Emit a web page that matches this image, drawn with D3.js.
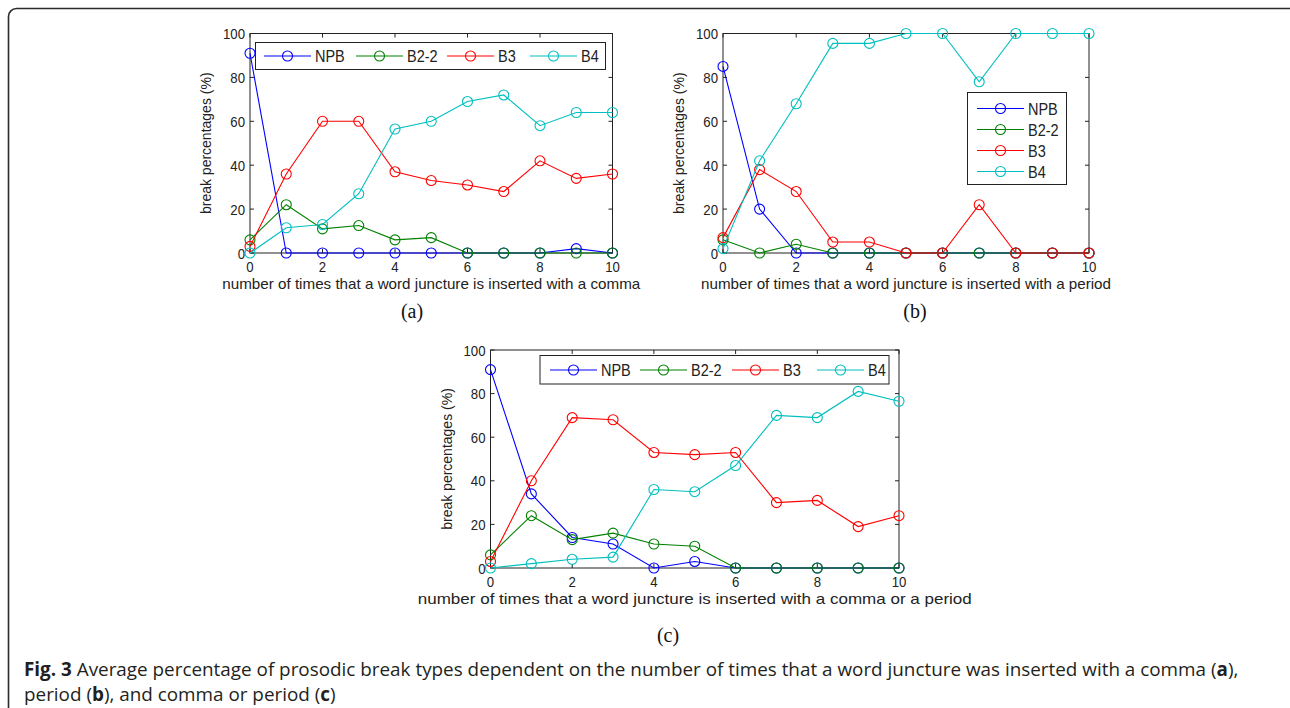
<!DOCTYPE html>
<html>
<head>
<meta charset="utf-8">
<script src="https://cdn.jsdelivr.net/npm/d3@7"></script>
<style>
  html, body { margin: 0; padding: 0; background: #fff; }
  svg { display: block; }
</style>
</head>
<body>
<svg id="fig" width="1290" height="708"></svg>
<script>
// ===== DATA =====
const xValues = [0, 1, 2, 3, 4, 5, 6, 7, 8, 9, 10];
const xTicks = [0, 2, 4, 6, 8, 10];
const yTicks = [0, 20, 40, 60, 80, 100];
const seriesNames = ['NPB', 'B2-2', 'B3', 'B4'];
const seriesColors = ['#0000ff', '#008000', '#ff0000', '#00bfbf'];

// (a) comma
const commaNPB = [91, 0, 0, 0, 0, 0, 0, 0, 0, 2, 0];
const commaB22 = [6, 22, 11, 12.5, 6, 7, 0, 0, 0, 0, 0];
const commaB3  = [3, 36, 60, 60, 37, 33, 31, 28, 42, 34, 36];
const commaB4  = [0, 11.5, 13, 27, 56.5, 60, 69, 72, 58, 64, 64];

// (b) period
const periodNPB = [85, 20, 0, 0, 0, 0, 0, 0, 0, 0, 0];
const periodB22 = [6, 0, 4, 0, 0, 0, 0, 0, 0, 0, 0];
const periodB3  = [7, 38, 28, 5, 5, 0, 0, 22, 0, 0, 0];
const periodB4  = [2, 42, 68, 95.5, 95.5, 100, 100, 78, 100, 100, 100];

// (c) comma or period
const bothNPB = [91, 34, 14, 11, 0, 3, 0, 0, 0, 0, 0];
const bothB22 = [6, 24, 13, 16, 11, 10, 0, 0, 0, 0, 0];
const bothB3  = [3, 40, 69, 68, 53, 52, 53, 30, 31, 19, 24];
const bothB4  = [0, 2, 4, 5, 36, 35, 47, 70, 69, 81, 76.5];

const xLabels = [
    'number of times that a word juncture is inserted with a comma',
    'number of times that a word juncture is inserted with a period',
    'number of times that a word juncture is inserted with a comma or a period'
];
const yLabel = 'break percentages (%)';
const panelTags = ['(a)', '(b)', '(c)'];

const svg = d3.select('#fig');
const axisFont = '"Liberation Sans", Arial, sans-serif';
const stretch = 1.15; // the source figure's text is slightly taller than wide

// text placed at (x, y) and stretched vertically
function addText(parent, x, y, str, size, anchor) {
    return parent.append('text')
        .attr('transform', `translate(${x},${y}) scale(1,${stretch})`)
        .attr('text-anchor', anchor || 'start')
        .style('font-family', axisFont).style('font-size', size + 'px')
        .style('fill', '#222')
        .text(str);
}

// outer frame (right and bottom run off the page)
svg.append('rect')
    .attr('x', 8.5).attr('y', 8.5)
    .attr('width', 1290).attr('height', 740)
    .attr('rx', 8).attr('ry', 8)
    .attr('fill', 'none')
    .attr('stroke', '#2b2b2b')
    .attr('stroke-width', 1.6);

function drawPanel(p) {
    const x = d3.scaleLinear().domain([0, 10]).range([p.left, p.right]);
    const y = d3.scaleLinear().domain([0, 100]).range([p.bottom, p.top]);
    const g = svg.append('g');
    const tick = 4;

    // box
    g.append('rect')
        .attr('x', p.left).attr('y', p.top)
        .attr('width', p.right - p.left).attr('height', p.bottom - p.top)
        .attr('fill', '#fff').attr('stroke', '#222').attr('stroke-width', 1);

    // ticks inward on all four sides
    xTicks.forEach(t => {
        g.append('line').attr('x1', x(t)).attr('x2', x(t))
            .attr('y1', p.bottom).attr('y2', p.bottom - tick).attr('stroke', '#222');
        g.append('line').attr('x1', x(t)).attr('x2', x(t))
            .attr('y1', p.top).attr('y2', p.top + tick).attr('stroke', '#222');
        addText(g, x(t), p.bottom + 19, t, 13.2, 'middle');
    });
    yTicks.forEach(t => {
        g.append('line').attr('x1', p.left).attr('x2', p.left + tick)
            .attr('y1', y(t)).attr('y2', y(t)).attr('stroke', '#222');
        g.append('line').attr('x1', p.right).attr('x2', p.right - tick)
            .attr('y1', y(t)).attr('y2', y(t)).attr('stroke', '#222');
        addText(g, p.left - 5, y(t) + 5.5, t, 13.2, 'end');
    });

    // axis labels
    addText(g, (p.left + p.right) / 2, p.bottom + 36, p.xLabel, 13, 'middle')
        .attr('textLength', p.xLabelWidth).attr('lengthAdjust', 'spacingAndGlyphs');
    g.append('text')
        .attr('transform', `translate(${p.left - 39},${(p.top + p.bottom) / 2}) rotate(-90)`)
        .attr('text-anchor', 'middle')
        .style('font-family', axisFont).style('font-size', '14px')
        .style('fill', '#222')
        .text(yLabel);

    // series: line then markers, in legend order
    const line = d3.line().x((d, i) => x(xValues[i])).y(d => y(d));
    p.series.forEach((vals, s) => {
        g.append('path')
            .datum(vals)
            .attr('d', line)
            .attr('fill', 'none')
            .attr('stroke', seriesColors[s])
            .attr('stroke-width', 1.1);
        g.selectAll(null)
            .data(vals)
            .join('circle')
            .attr('cx', (d, i) => x(xValues[i]))
            .attr('cy', d => y(d))
            .attr('r', 5)
            .attr('fill', 'none')
            .attr('stroke', seriesColors[s])
            .attr('stroke-width', 1.1);
    });

    // legend
    const L = p.legend;
    const lg = g.append('g');
    lg.append('rect')
        .attr('x', L.x).attr('y', L.y).attr('width', L.w).attr('height', L.h)
        .attr('fill', '#fff').attr('stroke', '#222').attr('stroke-width', 1);
    seriesNames.forEach((name, s) => {
        const ex = L.entries[s][0], ey = L.entries[s][1];
        lg.append('line')
            .attr('x1', ex).attr('x2', ex + 47)
            .attr('y1', ey).attr('y2', ey)
            .attr('stroke', seriesColors[s]).attr('stroke-width', 1.1);
        lg.append('circle')
            .attr('cx', ex + 23.5).attr('cy', ey).attr('r', 5)
            .attr('fill', 'none').attr('stroke', seriesColors[s]).attr('stroke-width', 1.1);
        addText(lg, ex + 51, ey + 6, name, 14.5);
    });

    // panel tag
    svg.append('text')
        .attr('x', p.tagX).attr('y', p.tagY)
        .attr('text-anchor', 'middle')
        .style('font-family', '"Liberation Serif", "Times New Roman", serif')
        .style('font-size', '20px')
        .style('fill', '#111')
        .text(p.tag);
}

drawPanel({
    left: 250, right: 612.5, top: 33.5, bottom: 253,
    series: [commaNPB, commaB22, commaB3, commaB4],
    xLabel: xLabels[0], xLabelWidth: 418,
    legend: { x: 255.5, y: 42.5, w: 350, h: 27,
        entries: [[264, 56], [356, 56], [447, 56], [530, 56]] },
    tag: panelTags[0], tagX: 412, tagY: 318
});

drawPanel({
    left: 723, right: 1089, top: 33.5, bottom: 253,
    series: [periodNPB, periodB22, periodB3, periodB4],
    xLabel: xLabels[1], xLabelWidth: 410,
    legend: { x: 967.5, y: 92.5, w: 99, h: 92,
        entries: [[977, 108.5], [977, 129.5], [977, 150.5], [977, 171.5]] },
    tag: panelTags[1], tagX: 915, tagY: 318
});

drawPanel({
    left: 490.5, right: 899, top: 350, bottom: 568,
    series: [bothNPB, bothB22, bothB3, bothB4],
    xLabel: xLabels[2], xLabelWidth: 554,
    legend: { x: 540, y: 355.5, w: 349, h: 28.5,
        entries: [[550, 370], [640, 370], [732, 370], [817, 370]] },
    tag: panelTags[2], tagX: 668, tagY: 642
});

// ===== CAPTION =====
const capFont = '"Open Sans", "Noto Sans", sans-serif';
function caption(y, parts) {
    const t = svg.append('text')
        .attr('x', 24).attr('y', y)
        .style('font-family', capFont).style('font-size', '18px')
        .style('fill', '#231f20');
    parts.forEach(([str, bold]) => {
        t.append('tspan').style('font-weight', bold ? 'bold' : 'normal').text(str);
    });
    return t;
}
const cap1 = caption(676, [
    ['Fig. 3', true],
    [' Average percentage of prosodic break types dependent on the number of times that a word juncture was inserted with a comma (', false],
    ['a', true], ['),', false]
]);
const cap2 = caption(701, [
    ['period (', false], ['b', true], ['), and comma or period (', false], ['c', true], [')', false]
]);
// fit caption width to the reference line length
const w1 = cap1.node().getComputedTextLength();
const fs = 18 * 1215 / w1;
cap1.style('font-size', fs + 'px');
cap2.style('font-size', fs + 'px');
</script>
</body>
</html>
